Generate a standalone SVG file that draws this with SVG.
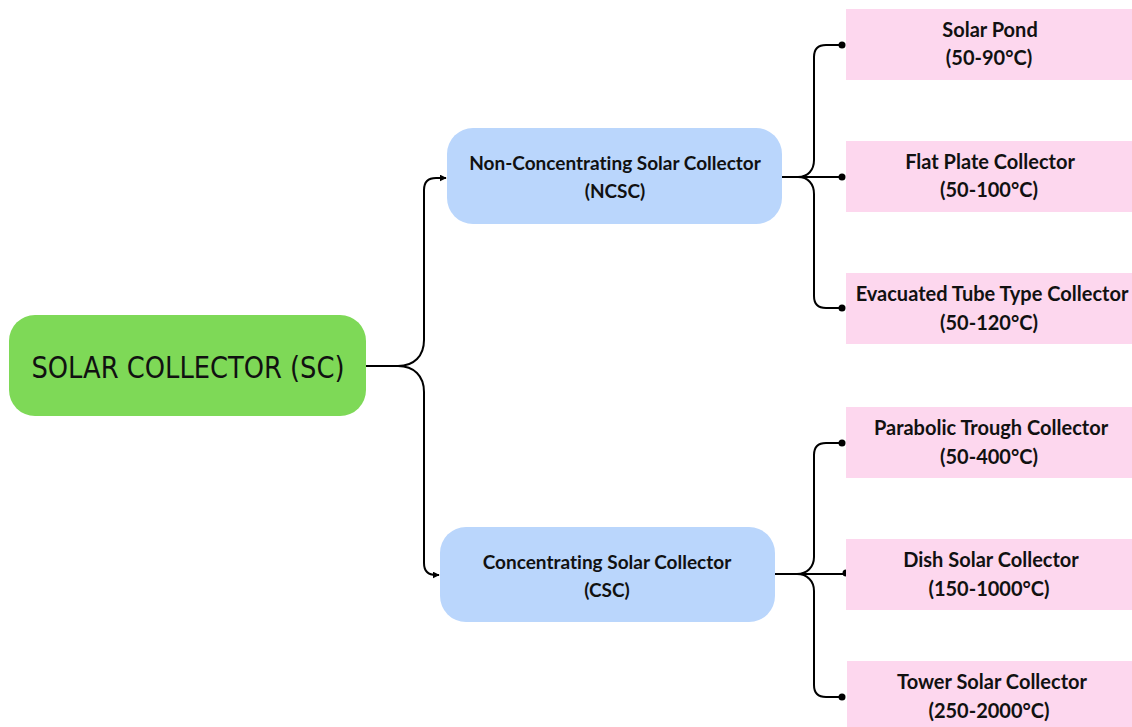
<svg xmlns="http://www.w3.org/2000/svg" width="1132" height="727" viewBox="0 0 1132 727">
<defs>
<marker id="arr" viewBox="0 0 10 10" refX="9" refY="5" markerWidth="7" markerHeight="7" markerUnits="userSpaceOnUse" orient="auto"><path d="M0,0 L10,5 L0,10 z" fill="#000"/></marker>
<style>
.root{fill:#7ED957}
.mid{fill:#BAD6FC}
.leaf{fill:#FDD7EE}
.rt{font-family:"DejaVu Sans Condensed","DejaVu Sans",sans-serif;font-size:31px;fill:#111;text-anchor:middle}
.t{font-family:Lato,"Open Sans",sans-serif;font-weight:bold;font-size:20px;fill:#111;text-anchor:middle;font-variant-ligatures:none}
.m{font-size:19px}
.c{fill:none;stroke:#000;stroke-width:2}
</style>
</defs>
<rect width="1132" height="727" fill="#fff"/>
<g id="connectors">
<path class="c" d="M366,366 H398 C414,366 424,356 424,340 V190 Q424,178 436,178 H446" marker-end="url(#arr)"/>
<path class="c" d="M366,366 H398 C414,366 424,376 424,392 V563 Q424,575 436,575 H439" marker-end="url(#arr)"/>
<path class="c" d="M782,177 H798 C808,177 814,170 814,160 V57 Q814,45 826,45 H842"/>
<path class="c" d="M782,177 H842"/>
<path class="c" d="M782,177 H798 C808,177 814,184 814,194 V296 Q814,308 826,308 H842"/>
<circle cx="842" cy="45" r="3.5"/>
<circle cx="842" cy="177" r="3.5"/>
<circle cx="842" cy="308" r="3.5"/>
<path class="c" d="M775,574 H797 C807,574 814,567 814,557 V455 Q814,443 826,443 H842"/>
<path class="c" d="M775,574 H846"/>
<path class="c" d="M775,574 H797 C807,574 814,581 814,591 V685 Q814,697 826,697 H842"/>
<circle cx="842" cy="443" r="3.5"/>
<circle cx="846" cy="573" r="3.5"/>
<circle cx="842" cy="697" r="3.5"/>
</g>
<g id="root">
<rect class="root" x="9" y="315" width="357" height="101" rx="26"/>
<text class="rt" x="188" y="378" textLength="313" lengthAdjust="spacingAndGlyphs">SOLAR COLLECTOR (SC)</text>
</g>
<g id="ncsc">
<rect class="mid" x="447" y="128" width="335" height="96" rx="26"/>
<text class="t m" x="615" y="170">Non-Concentrating Solar Collector</text>
<text class="t m" x="615" y="198">(NCSC)</text>
</g>
<g id="csc">
<rect class="mid" x="440" y="527" width="335" height="95" rx="26"/>
<text class="t m" x="607" y="569">Concentrating Solar Collector</text>
<text class="t m" x="607" y="597">(CSC)</text>
</g>
<g id="solar-pond">
<rect class="leaf" x="846" y="9" width="286" height="71"/>
<text class="t" x="990" y="37">Solar Pond</text>
<text class="t" x="989" y="65">(50-90°C)</text>
</g>
<g id="flat-plate">
<rect class="leaf" x="846" y="141" width="286" height="71"/>
<text class="t" x="990" y="169">Flat Plate Collector</text>
<text class="t" x="989" y="197">(50-100°C)</text>
</g>
<g id="evacuated">
<rect class="leaf" x="846" y="273" width="286" height="71"/>
<text class="t" x="992" y="301">Evacuated Tube Type Collector</text>
<text class="t" x="989" y="330">(50-120°C)</text>
</g>
<g id="parabolic">
<rect class="leaf" x="846" y="407" width="286" height="71"/>
<text class="t" x="991" y="435">Parabolic Trough Collector</text>
<text class="t" x="989" y="464">(50-400°C)</text>
</g>
<g id="dish">
<rect class="leaf" x="846" y="539" width="286" height="71"/>
<text class="t" x="991" y="567">Dish Solar Collector</text>
<text class="t" x="989" y="596">(150-1000°C)</text>
</g>
<g id="tower">
<rect class="leaf" x="847" y="661" width="285" height="66"/>
<text class="t" x="992" y="689">Tower Solar Collector</text>
<text class="t" x="989" y="718">(250-2000°C)</text>
</g>
</svg>
